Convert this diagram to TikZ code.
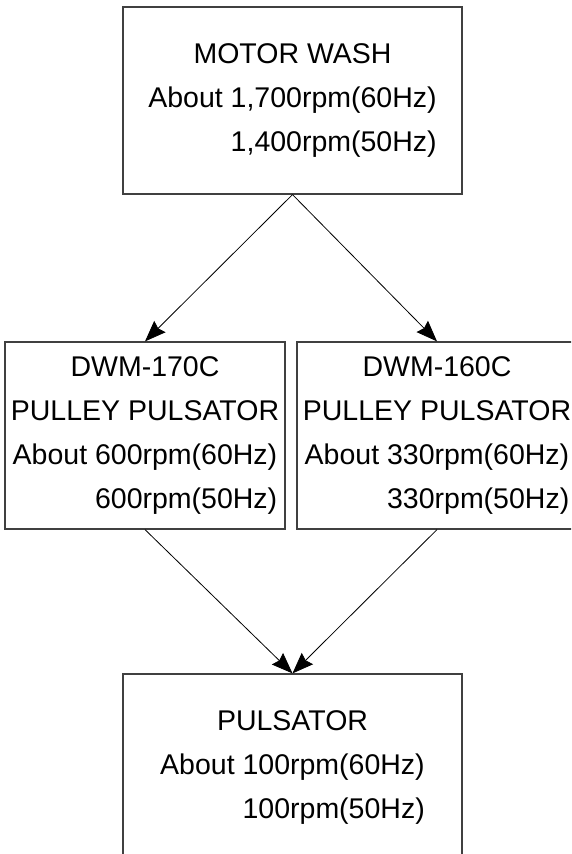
\documentclass[tikz,border=0pt]{standalone}
\usepackage{fontspec}
\setmainfont{Liberation Sans}
\usetikzlibrary{arrows.meta}

\newlength{\rpmlen}
\newcommand{\speeds}[2]{\settowidth{\rpmlen}{#1}\global\rpmlen=\rpmlen#1\\\makebox[\rpmlen][r]{#2}}

\begin{document}
\begin{tikzpicture}[
        x=1pt, y=1pt,
        font={\fontsize{28.5pt}{44pt}\selectfont}
    ]
    \tikzset{
        speedbox/.style = {rectangle, draw=black!75, line width=1.2pt, align=center, minimum height=187pt, inner sep=0pt},
        wide/.style = {minimum width=339pt},
        narrow/.style = {minimum width=280pt},
        drive/.style = {line width=0.8pt, -{Stealth[length=21pt,width=16pt,inset=2.5pt]}},
    }
    \useasboundingbox (0,0) rectangle (571,854);
    \clip (0,0) rectangle (571,854);
    \node[speedbox,wide] (motor) at (292.5,753.5) {MOTOR WASH\\\speeds{About 1,700rpm(60Hz)}{1,400rpm(50Hz)}};
    \node[speedbox,narrow] (dwm170) at (145,418.5) {DWM-170C\\PULLEY PULSATOR\\\speeds{About 600rpm(60Hz)}{600rpm(50Hz)}};
    \node[speedbox,narrow] (dwm160) at (437,418.5) {DWM-160C\\PULLEY PULSATOR\\\speeds{About 330rpm(60Hz)}{330rpm(50Hz)}};
    \node[speedbox,wide] (pulsator) at (292.5,86.5) {PULSATOR\\\speeds{About 100rpm(60Hz)}{100rpm(50Hz)}};
    \draw[drive] (motor.south) -- (dwm170.north);
    \draw[drive] (motor.south) -- (dwm160.north);
    \draw[drive] (dwm170.south) -- (pulsator.north);
    \draw[drive] (dwm160.south) -- (pulsator.north);
\end{tikzpicture}
\end{document}
